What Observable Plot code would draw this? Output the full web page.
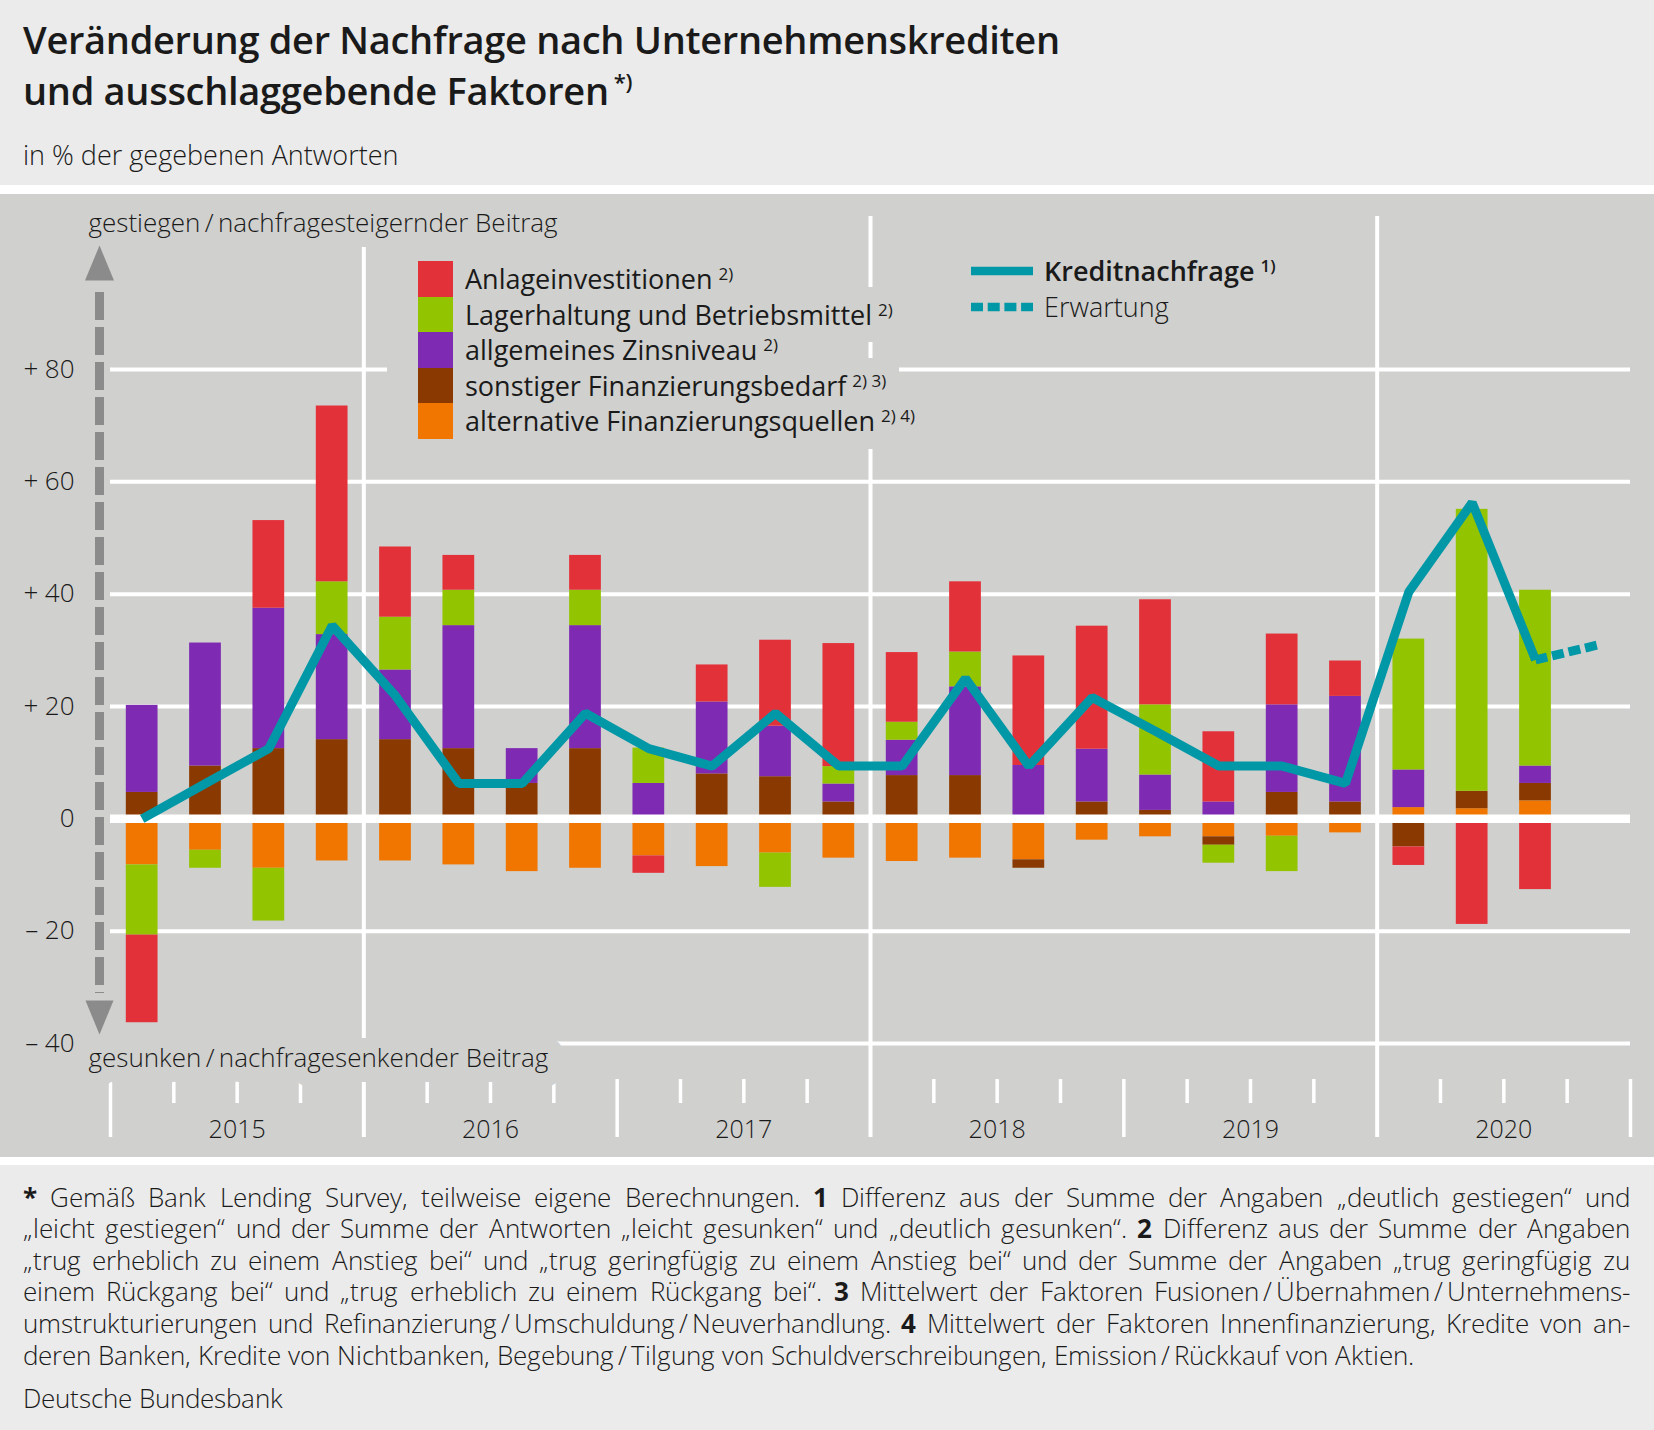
<!DOCTYPE html>
<html><head><meta charset="utf-8">
<script src="https://cdn.jsdelivr.net/npm/d3@7"></script>
<script src="https://cdn.jsdelivr.net/npm/@observablehq/plot@0.6"></script>
<style>
@font-face{font-family:"FootSans";src:local("Open Sans Light"),local("OpenSans-Light"),local("Open Sans"),local("OpenSans-Regular"),local("Open Sans Regular");font-weight:300;ascent-override:88%;descent-override:24%;line-gap-override:0%;}
@font-face{font-family:"FootSans";src:local("Open Sans Bold"),local("OpenSans-Bold"),local("Open Sans");font-weight:700;ascent-override:88%;descent-override:24%;line-gap-override:0%;}
html,body{margin:0;padding:0;}
body{width:1654px;height:1430px;position:relative;background:#ffffff;font-family:"Open Sans",sans-serif;color:#1a1a1a;overflow:hidden;}
#header{position:absolute;left:0;top:0;width:1654px;height:185px;background:#ebebeb;}
#panel{position:absolute;left:0;top:194px;width:1654px;height:963px;background:#d0d0ce;}
#footer{position:absolute;left:0;top:1165px;width:1654px;height:265px;background:#ebebeb;}
#chart{position:absolute;left:0;top:194px;width:1654px;height:963px;}
#chart svg{display:block;max-width:none;}
.title{position:absolute;left:23px;top:14px;font-size:38px;line-height:51px;font-weight:600;white-space:nowrap;letter-spacing:-0.3px;}
.title sup{font-size:22px;vertical-align:15px;line-height:0;margin-left:5px;font-weight:600;}
.subtitle{position:absolute;left:23px;top:138px;font-size:27px;line-height:34px;font-weight:300;white-space:nowrap;}
.lrow{position:absolute;left:387px;height:35.5px;padding:10px 13px 10px 31px;display:flex;align-items:center;white-space:nowrap;}
.lrow.bg{background:#d0d0ce;}
.lrow.bg *{visibility:hidden;}
.sw{width:35px;height:35.5px;flex:none;}
.ltxt{margin-left:12px;font-size:27px;line-height:35.5px;font-weight:400;}
.ltxt sup, .ktxt sup{font-size:17px;vertical-align:9px;line-height:0;margin-left:6px;}
.krow{position:absolute;left:971px;height:35.5px;display:flex;align-items:center;white-space:nowrap;}
.ktxt{margin-left:11px;font-size:27px;line-height:35.5px;}
#fnotes{position:absolute;left:23px;top:1182.7px;width:1607px;}
.fline{position:absolute;left:0;height:31.6px;line-height:31.6px;font-family:"FootSans","Open Sans",sans-serif;font-size:26.2px;font-weight:300;white-space:nowrap;}
.fline span{display:inline-block;height:31.6px;line-height:31.6px;vertical-align:top;}
.fline b{font-weight:700;display:inline-block;height:31.6px;line-height:31.6px;}
.source{position:absolute;left:23px;top:1383.7px;height:31.6px;font-family:"FootSans","Open Sans",sans-serif;font-size:26.2px;line-height:31.6px;font-weight:300;white-space:nowrap;}
</style>
</head>
<body>
<div id="header"></div>
<div id="panel"></div>
<div id="footer"></div>
<div class="title">Veränderung der Nachfrage nach Unternehmenskrediten<br>und ausschlaggebende Faktoren<sup>*)</sup></div>
<div class="subtitle">in % der gegebenen Antworten</div>
<div id="chart"></div>
<div id="legend"></div>
<div id="fnotes"></div>
<div class="source">Deutsche Bundesbank</div>
<script>
// ---------------- data ----------------
const quarters = ["2015 Q1","2015 Q2","2015 Q3","2015 Q4","2016 Q1","2016 Q2","2016 Q3","2016 Q4",
  "2017 Q1","2017 Q2","2017 Q3","2017 Q4","2018 Q1","2018 Q2","2018 Q3","2018 Q4",
  "2019 Q1","2019 Q2","2019 Q3","2019 Q4","2020 Q1","2020 Q2","2020 Q3","2020 Q4"];
const years = ["2015","2016","2017","2018","2019","2020"];

const seriesNames = ["Anlageinvestitionen","Lagerhaltung und Betriebsmittel","allgemeines Zinsniveau","sonstiger Finanzierungsbedarf","alternative Finanzierungsquellen"];
const seriesNotes = ["2)","2)","2)","2) 3)","2) 4)"];
const seriesColors = ["#e3313a","#92c400","#7f2ab3","#8a3900","#f07600"];

// 2015 Q1 ... 2020 Q3
const anlage      = [-15.6, 0, 15.6, 31.3, 12.5, 6.2, 0, 6.2, -3.1, 6.6, 15.3, 21.9, 12.4, 12.5, 19.5, 21.9, 18.7, 12.5, 12.6, 6.3, -3.3, -18.8, -12.6];
const lager       = [-12.5, -3.2, -9.4, 9.4, 9.4, 6.3, 0, 6.3, 6.3, 0, -6.1, 3.1, 3.2, 6.2, 0, 0, 12.5, -3.2, -6.3, 0, 23.3, 50.2, 31.3];
const zins        = [15.5, 21.9, 25.0, 18.7, 12.4, 21.9, 6.2, 21.9, 6.3, 12.8, 9.0, 3.2, 6.3, 15.8, 9.5, 9.4, 6.3, 3.0, 15.6, 18.8, 6.7, 0, 3.1];
const sonstiger   = [4.7, 9.4, 12.5, 14.1, 14.1, 12.5, 6.3, 12.5, 0, 8.0, 7.5, 3.0, 7.7, 7.7, -1.5, 3.0, 1.5, -1.5, 4.7, 3.0, -5.0, 3.1, 3.1];
const alternative = [-8.2, -5.6, -8.8, -7.5, -7.5, -8.2, -9.4, -8.8, -6.6, -8.5, -6.1, -7.0, -7.6, -7.0, -7.3, -3.8, -3.2, -3.2, -3.1, -2.5, 2.0, 1.8, 3.2];

const kreditLabel = "Kreditnachfrage";
const kreditNote = "1)";
const erwartungLabel = "Erwartung";
const kreditnachfrage = [0, 6.3, 12.5, 34.4, 21.9, 6.3, 6.3, 18.8, 12.5, 9.4, 18.8, 9.4, 9.4, 25.0, 9.4, 21.6, 15.6, 9.4, 9.4, 6.3, 40.4, 56.3, 28.3];
const erwartung = [31.0]; // 2020 Q4

const yTicks = [-40, -20, 0, 20, 40, 60, 80];
const yTickLabels = ["\u2013\u200540", "\u2013\u200520", "0", "+\u200520", "+\u200540", "+\u200560", "+\u200580"];
const upLabel = "gestiegen\u2009/\u2009nachfragesteigernder Beitrag";
const downLabel = "gesunken\u2009/\u2009nachfragesenkender Beitrag";

const footerLines = [
  "[*] Gemäß Bank Lending Survey, teilweise eigene Berechnungen. [1] Differenz aus der Summe der Angaben „deutlich gestiegen“ und",
  "„leicht gestiegen“ und der Summe der Antworten „leicht gesunken“ und „deutlich gesunken“. [2] Differenz aus der Summe der Angaben",
  "„trug erheblich zu einem Anstieg bei“ und „trug geringfügig zu einem Anstieg bei“ und der Summe der Angaben „trug geringfügig zu",
  "einem Rückgang bei“ und „trug erheblich zu einem Rückgang bei“. [3] Mittelwert der Faktoren Fusionen\u2009/\u2009Übernahmen\u2009/\u2009Unternehmens-",
  "umstrukturierungen und Refinanzierung\u2009/\u2009Umschuldung\u2009/\u2009Neuverhandlung. [4] Mittelwert der Faktoren Innenfinanzierung, Kredite von an-",
  "deren Banken, Kredite von Nichtbanken, Begebung\u2009/\u2009Tilgung von Schuldverschreibungen, Emission\u2009/\u2009Rückkauf von Aktien."
];

// ---------------- styles ----------------
const panelColor = "#d0d0ce";
const teal = "#0098a7";
const arrowGrey = "#8b8b8b";
const textColor = "#1a1a1a";

// ---------------- tidy tables ----------------
const seriesValues = [anlage, lager, zins, sonstiger, alternative];
const stackOrder = [4, 3, 2, 1, 0]; // bottom -> top
const rows = [];
stackOrder.forEach(s => seriesValues[s].forEach((v, i) => {
  if (v !== 0) rows.push({i, quarter: quarters[i], series: seriesNames[s], value: v});
}));
const lineRows = kreditnachfrage.map((v, i) => ({i, quarter: quarters[i], value: v}));
const last = lineRows[lineRows.length - 1];
const expectRows = [last, ...erwartung.map((v, k) => ({i: last.i + 1 + k, quarter: quarters[last.i + 1 + k], value: v}))];

const nQ = quarters.length;
const boundaries = d3.range(0, nQ + 1);
const gridYears = boundaries.filter(b => b % 4 === 0 && b % 8 === 4);   // 2016, 2018, 2020
const yearTicks = boundaries.filter(b => b % 8 === 0);                   // 2015, 2017, 2019, end
const quarterTicks = boundaries.filter(b => b % 4 !== 0);
const mid = d => d.i + 0.5;

// custom arrow-head symbols
const headUp = {draw(ctx) { ctx.moveTo(0, -35); ctx.lineTo(14.5, 0); ctx.lineTo(-14.5, 0); ctx.closePath(); }};
const headDown = {draw(ctx) { ctx.moveTo(0, 34); ctx.lineTo(14, 0); ctx.lineTo(-14, 0); ctx.closePath(); }};

const chart = Plot.plot({
  width: 1654,
  height: 963,
  marginLeft: 110,
  marginRight: 24,
  marginTop: 175,
  marginBottom: 114,
  style: {background: "transparent", fontFamily: "'Open Sans', sans-serif", color: textColor, overflow: "visible"},
  x: {type: "linear", domain: [0, nQ], axis: null},
  y: {domain: [yTicks[0], yTicks[yTicks.length - 1]], axis: null},
  color: {domain: seriesNames, range: seriesColors},
  marks: [
    // grid
    Plot.ruleY(yTicks.filter(v => v !== 0), {stroke: "white", strokeWidth: 4}),
    Plot.ruleX(gridYears, {stroke: "white", strokeWidth: 4, insetTop: -153, insetBottom: -94}),
    Plot.ruleX(quarterTicks, {stroke: "white", strokeWidth: 3.5, insetTop: 710, insetBottom: -60}),
    Plot.ruleX(yearTicks, {stroke: "white", strokeWidth: 3.5, insetTop: 710, insetBottom: -94}),
    // bars
    Plot.rectY(rows, {x: "i", interval: 1, y: "value", fill: "series", insetLeft: 15.8, insetRight: 15.8}),
    Plot.ruleY([0], {stroke: "white", strokeWidth: 8.5}),
    // line
    Plot.line(lineRows, {x: mid, y: "value", stroke: teal, strokeWidth: 9, strokeLinejoin: "miter", strokeLinecap: "butt"}),
    Plot.line(expectRows, {x: mid, y: "value", stroke: teal, strokeWidth: 9, strokeDasharray: "12,5", strokeLinecap: "butt"}),
    // y labels
    Plot.text(yTicks, {y: d => d, text: (d, k) => yTickLabels[k], frameAnchor: "left", lineAnchor: "middle", dx: -36, textAnchor: "end", fontSize: 26, fontWeight: 300}),
    // year labels
    Plot.text(years, {x: (d, k) => k * 4 + 2, text: d => d, frameAnchor: "bottom", lineAnchor: "middle", dy: 86, fontSize: 25, fontWeight: 300}),
    // direction labels with knockout
    Plot.text([upLabel], {text: d => d, frameAnchor: "top-left", lineAnchor: "middle", dx: -22, dy: -145.5, textAnchor: "start", fontSize: 26, fontWeight: 300, stroke: panelColor, strokeWidth: 30, fill: textColor}),
    Plot.text([downLabel], {text: d => d, frameAnchor: "bottom-left", lineAnchor: "middle", dx: -22, dy: 15.5, textAnchor: "start", fontSize: 26, fontWeight: 300, stroke: panelColor, strokeWidth: 30, fill: textColor}),
    // arrow
    Plot.ruleX([0], {dx: -11, stroke: arrowGrey, strokeWidth: 9, strokeDasharray: "28,7", insetTop: -77, insetBottom: 50}),
    Plot.dot([0], {x: d => d, frameAnchor: "top", dx: -11, dy: -89, symbol: headUp, r: 10, fill: arrowGrey}),
    Plot.dot([0], {x: d => d, frameAnchor: "bottom", dx: -11, dy: -43, symbol: headDown, r: 10, fill: arrowGrey})
  ]
});
document.getElementById("chart").appendChild(chart);

// ---------------- legend ----------------
const legend = document.getElementById("legend");
function legendRow(k, bg) {
  const r = document.createElement("div");
  r.className = "lrow" + (bg ? " bg" : "");
  r.style.top = (261 - 10 + k * 35.5) + "px";
  r.innerHTML = `<div class="sw" style="background:${seriesColors[k]}"></div><div class="ltxt">${seriesNames[k]}<sup>${seriesNotes[k]}</sup></div>`;
  return r;
}
seriesNames.forEach((s, k) => legend.appendChild(legendRow(k, true)));
seriesNames.forEach((s, k) => legend.appendChild(legendRow(k, false)));

const k1 = document.createElement("div");
k1.className = "krow"; k1.style.top = "253px";
k1.innerHTML = `<svg width="62" height="10"><line x1="0" x2="62" y1="5" y2="5" stroke="${teal}" stroke-width="8.5"/></svg><div class="ktxt" style="font-weight:600">${kreditLabel}<sup style="font-weight:600">${kreditNote}</sup></div>`;
legend.appendChild(k1);
const k2 = document.createElement("div");
k2.className = "krow"; k2.style.top = "289px";
k2.innerHTML = `<svg width="62" height="10"><line x1="0" x2="62" y1="5" y2="5" stroke="${teal}" stroke-width="8.5" stroke-dasharray="12,4.7"/></svg><div class="ktxt" style="font-weight:300">${erwartungLabel}</div>`;
legend.appendChild(k2);

// ---------------- footnotes ----------------
const fn = document.getElementById("fnotes");
const FW = 1607;
function md(s) { return s.replace(/\[(.+?)\]/g, "<b>$1</b>"); }
const spans = footerLines.map((line, k) => {
  const div = document.createElement("div");
  div.className = "fline";
  div.style.top = (k * 31.6) + "px";
  const span = document.createElement("span");
  span.innerHTML = md(line);
  div.appendChild(span);
  fn.appendChild(div);
  return span;
});
function justify() {
  spans.forEach((span, k) => {
    span.style.wordSpacing = ""; span.style.letterSpacing = "";
    const w = span.getBoundingClientRect().width;
    if (w > FW) {
      span.style.letterSpacing = ((FW - w) / span.textContent.length) + "px";
    } else if (k < spans.length - 1) {
      const n = (span.textContent.match(/ /g) || []).length;
      span.style.wordSpacing = ((FW - w) / n) + "px";
    }
  });
}
justify();
if (document.fonts && document.fonts.ready) document.fonts.ready.then(justify);
</script>
</body></html>
